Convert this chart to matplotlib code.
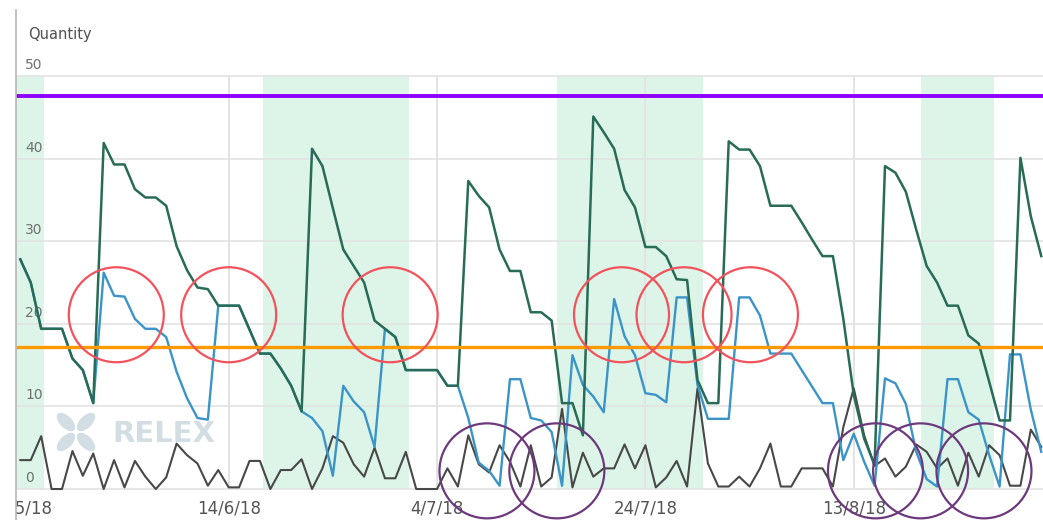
import matplotlib
matplotlib.use("Agg")
import matplotlib.pyplot as plt
import matplotlib.dates as mdates
from matplotlib.patches import Ellipse, Rectangle
from matplotlib.lines import Line2D
from matplotlib.transforms import IdentityTransform
import pandas as pd

# ---------------------------------------------------------------- data
start_date = "2018-05-25"
dates = pd.date_range(start_date, periods=99, freq="D")

stock_level = [
    27.8, 25.0, 19.4, 19.4, 19.4, 15.8, 14.4, 10.4,
    41.9, 39.3, 39.3, 36.3, 35.3, 35.3, 34.3, 29.4,
    26.5, 24.4, 24.2, 22.2, 22.2, 22.2, 19.3, 16.4,
    16.4, 14.6, 12.5, 9.4, 41.2, 39.1, 34.0, 29.0,
    27.0, 25.0, 20.4, 19.4, 18.4, 14.4, 14.4, 14.4,
    14.4, 12.5, 12.5, 37.3, 35.5, 34.1, 29.0, 26.4,
    26.4, 21.4, 21.4, 20.4, 10.4, 10.4, 6.5, 45.1,
    43.2, 41.2, 36.2, 34.1, 29.3, 29.3, 28.2, 25.4,
    25.3, 13.2, 10.4, 10.4, 42.1, 41.1, 41.1, 39.1,
    34.3, 34.3, 34.3, 32.3, 30.2, 28.2, 28.2, 20.6,
    11.4, 6.1, 2.9, 39.1, 38.3, 36.0, 31.4, 27.0,
    25.0, 22.2, 22.2, 18.6, 17.6, 13.0, 8.3, 8.3,
    40.1, 33.0, 28.2,
]

alt_stock_level = [
    27.8, 25.0, 19.4, 19.4, 19.4, 15.8, 14.4, 10.4,
    26.2, 23.4, 23.3, 20.6, 19.4, 19.4, 18.4, 14.2,
    11.0, 8.6, 8.4, 22.2, 22.2, 22.2, 19.3, 16.4,
    16.4, 14.6, 12.5, 9.4, 8.6, 7.0, 1.6, 12.5,
    10.6, 9.3, 5.1, 19.4, 18.4, 14.4, 14.4, 14.4,
    14.4, 12.5, 12.5, 8.6, 3.2, 2.2, 0.4, 13.3,
    13.3, 8.6, 8.3, 6.9, 0.4, 16.2, 12.6, 11.2,
    9.3, 23.0, 18.5, 16.2, 11.6, 11.4, 10.5, 23.2,
    23.2, 12.6, 8.5, 8.5, 8.5, 23.2, 23.2, 21.0,
    16.4, 16.4, 16.4, 14.4, 12.4, 10.4, 10.4, 3.5,
    6.7, 3.3, 0.4, 13.4, 12.8, 10.3, 4.5, 1.2,
    0.3, 13.3, 13.3, 9.3, 8.4, 4.1, 0.3, 16.3,
    16.3, 9.6, 4.5,
]

sales = [
    3.5, 3.5, 6.4, 0.0, 0.0, 4.6, 1.6, 4.3,
    0.0, 3.5, 0.2, 3.4, 1.5, 0.0, 1.4, 5.5,
    4.1, 3.1, 0.4, 2.3, 0.2, 0.2, 3.4, 3.4,
    0.0, 2.3, 2.3, 3.6, 0.0, 2.5, 6.4, 5.6,
    3.0, 1.5, 5.0, 1.3, 1.3, 4.5, 0.0, 0.0,
    0.0, 2.5, 0.3, 6.5, 3.0, 2.0, 5.3, 3.3,
    0.3, 5.3, 0.3, 1.4, 9.7, 0.2, 4.4, 1.5,
    2.5, 2.5, 5.4, 2.5, 5.3, 0.2, 1.4, 3.4,
    0.3, 12.2, 3.1, 0.3, 0.3, 1.5, 0.3, 2.5,
    5.5, 0.3, 0.3, 2.5, 2.5, 2.5, 0.3, 7.5,
    12.2, 6.5, 2.8, 3.7, 1.5, 2.7, 5.4, 4.5,
    2.5, 3.7, 0.4, 4.4, 1.5, 5.3, 4.1, 0.4,
    0.4, 7.2, 5.1,
]

max_level = 47.6
min_level = 17.2

tick_dates = ["2018-05-25", "2018-06-14", "2018-07-04", "2018-07-24", "2018-08-13"]
tick_labels = ["25/5/18", "14/6/18", "4/7/18", "24/7/18", "13/8/18"]
y_ticks = [0, 10, 20, 30, 40, 50]

highlight_periods = [
    ("2018-05-24 00:00", "2018-05-27 06:00"),
    ("2018-06-17 07:00", "2018-07-01 07:00"),
    ("2018-07-15 12:00", "2018-07-29 12:00"),
    ("2018-08-19 12:00", "2018-08-26 12:00"),
]

overstock_marks = [
    ("2018-06-03 05:00", 21.1), ("2018-06-14 00:00", 21.1),
    ("2018-06-29 12:00", 21.1), ("2018-07-21 17:00", 21.1),
    ("2018-07-27 17:00", 21.1), ("2018-08-03 02:00", 21.1),
]
shortage_marks = [
    ("2018-07-08 19:00", 2.2), ("2018-07-15 12:00", 2.2),
    ("2018-08-15 02:00", 2.2), ("2018-08-19 10:00", 2.2),
    ("2018-08-25 12:00", 2.2),
]

# ---------------------------------------------------------------- style
W, H = 1043, 520
C_STOCK = "#286b56"
C_ALT = "#3b94c8"
C_SALES = "#484848"
C_MAX = "#8f00ff"
C_MIN = "#ff9900"
C_BAND = "#dcf5e8"
C_GRID = "#e3e3e3"
C_RED = "#f2525b"
C_PURPLE = "#6c3a7c"
C_MARK = "#d2dde4"

fig = plt.figure(figsize=(W / 100, H / 100), dpi=100)
fig.patch.set_facecolor("white")
ax = fig.add_axes([16 / W, 29 / H, 1027 / W, 481 / H])

x0 = pd.Timestamp(start_date) - pd.Timedelta(hours=10)
x1 = dates[-1] + pd.Timedelta(hours=4)
ax.set_xlim(mdates.date2num(x0), mdates.date2num(x1))
ax.set_ylim(-0.24, 58.0)

for s in ax.spines.values():
    s.set_visible(False)

# shaded periods
for a, b in highlight_periods:
    xa, xb = mdates.date2num(pd.Timestamp(a)), mdates.date2num(pd.Timestamp(b))
    ax.fill_between([xa, xb], 0, 50, color=C_BAND, lw=0, zorder=0.5)

# grid
xmin, xmax = ax.get_xlim()
ax.hlines(y_ticks, xmin, xmax, color=C_GRID, lw=1.2, zorder=0.8)
ax.vlines(mdates.date2num(pd.to_datetime(tick_dates[1:])), 0, 50,
          color=C_GRID, lw=1.4, zorder=0.8)

# watermark
ax.text(112 / W, 1 - 434 / H, "RELEX", transform=fig.transFigure,
        fontsize=21, fontweight="bold", color=C_MARK, va="center",
        ha="left", family="DejaVu Sans", zorder=0.9)
cx, cy = 76, H - 432
for dx, dy, ang in [(-10, 10, -45), (10, 10, 45), (-10, -10, 45), (10, -10, -45)]:
    ax.add_patch(Ellipse((cx + dx, cy + dy), 23, 12, angle=ang,
                         transform=IdentityTransform(), color=C_MARK,
                         lw=0, zorder=0.9, clip_on=False))

# series
xd = mdates.date2num(dates)
ax.plot(xd, sales, color=C_SALES, lw=1.5, zorder=2)
ax.plot(xd, alt_stock_level, color=C_ALT, lw=1.7, zorder=3)
ax.plot(xd, stock_level, color=C_STOCK, lw=1.8, zorder=4)
ax.axhline(max_level, color=C_MAX, lw=2.8, zorder=5)
ax.axhline(min_level, color=C_MIN, lw=2.4, zorder=5)

# y labels sit just above their gridlines
for v in y_ticks:
    ax.text(9 / 1027, v + 0.85, str(v), transform=ax.get_yaxis_transform(),
            fontsize=10, color="#707070", ha="left", va="baseline",
            family="DejaVu Sans")
ax.text(12 / 1027, 55.0, "Quantity", transform=ax.get_yaxis_transform(),
        fontsize=10.5, color="#505050", ha="left", va="center",
        family="DejaVu Sans")
ax.set_yticks([])

ax.set_xticks(mdates.date2num(pd.to_datetime(tick_dates)))
ax.set_xticklabels(tick_labels, fontsize=12, color="#555555",
                   family="DejaVu Sans")
ax.tick_params(axis="x", length=0, pad=6)

# circled regions
cw, ch = 2 * 47.5 / 10.42, 2 * 47.5 / 8.26
for d, v in overstock_marks:
    ax.add_patch(Ellipse((mdates.date2num(pd.Timestamp(d)), v), cw, ch,
                         fill=False, ec=C_RED, lw=1.6, zorder=7, clip_on=False))
for d, v in shortage_marks:
    ax.add_patch(Ellipse((mdates.date2num(pd.Timestamp(d)), v), cw, ch,
                         fill=False, ec=C_PURPLE, lw=1.6, zorder=7, clip_on=False))

# left margin and vertical axis line
fig.add_artist(Rectangle((0, 0), 15 / W, 1, transform=fig.transFigure,
                         color="white", zorder=5))
fig.add_artist(Line2D([15.7 / W, 15.7 / W], [0, 1 - 10 / H],
                      transform=fig.transFigure, color="#b5b5b5", lw=1.2,
                      zorder=6))

fig.savefig("out.png", dpi=100)
